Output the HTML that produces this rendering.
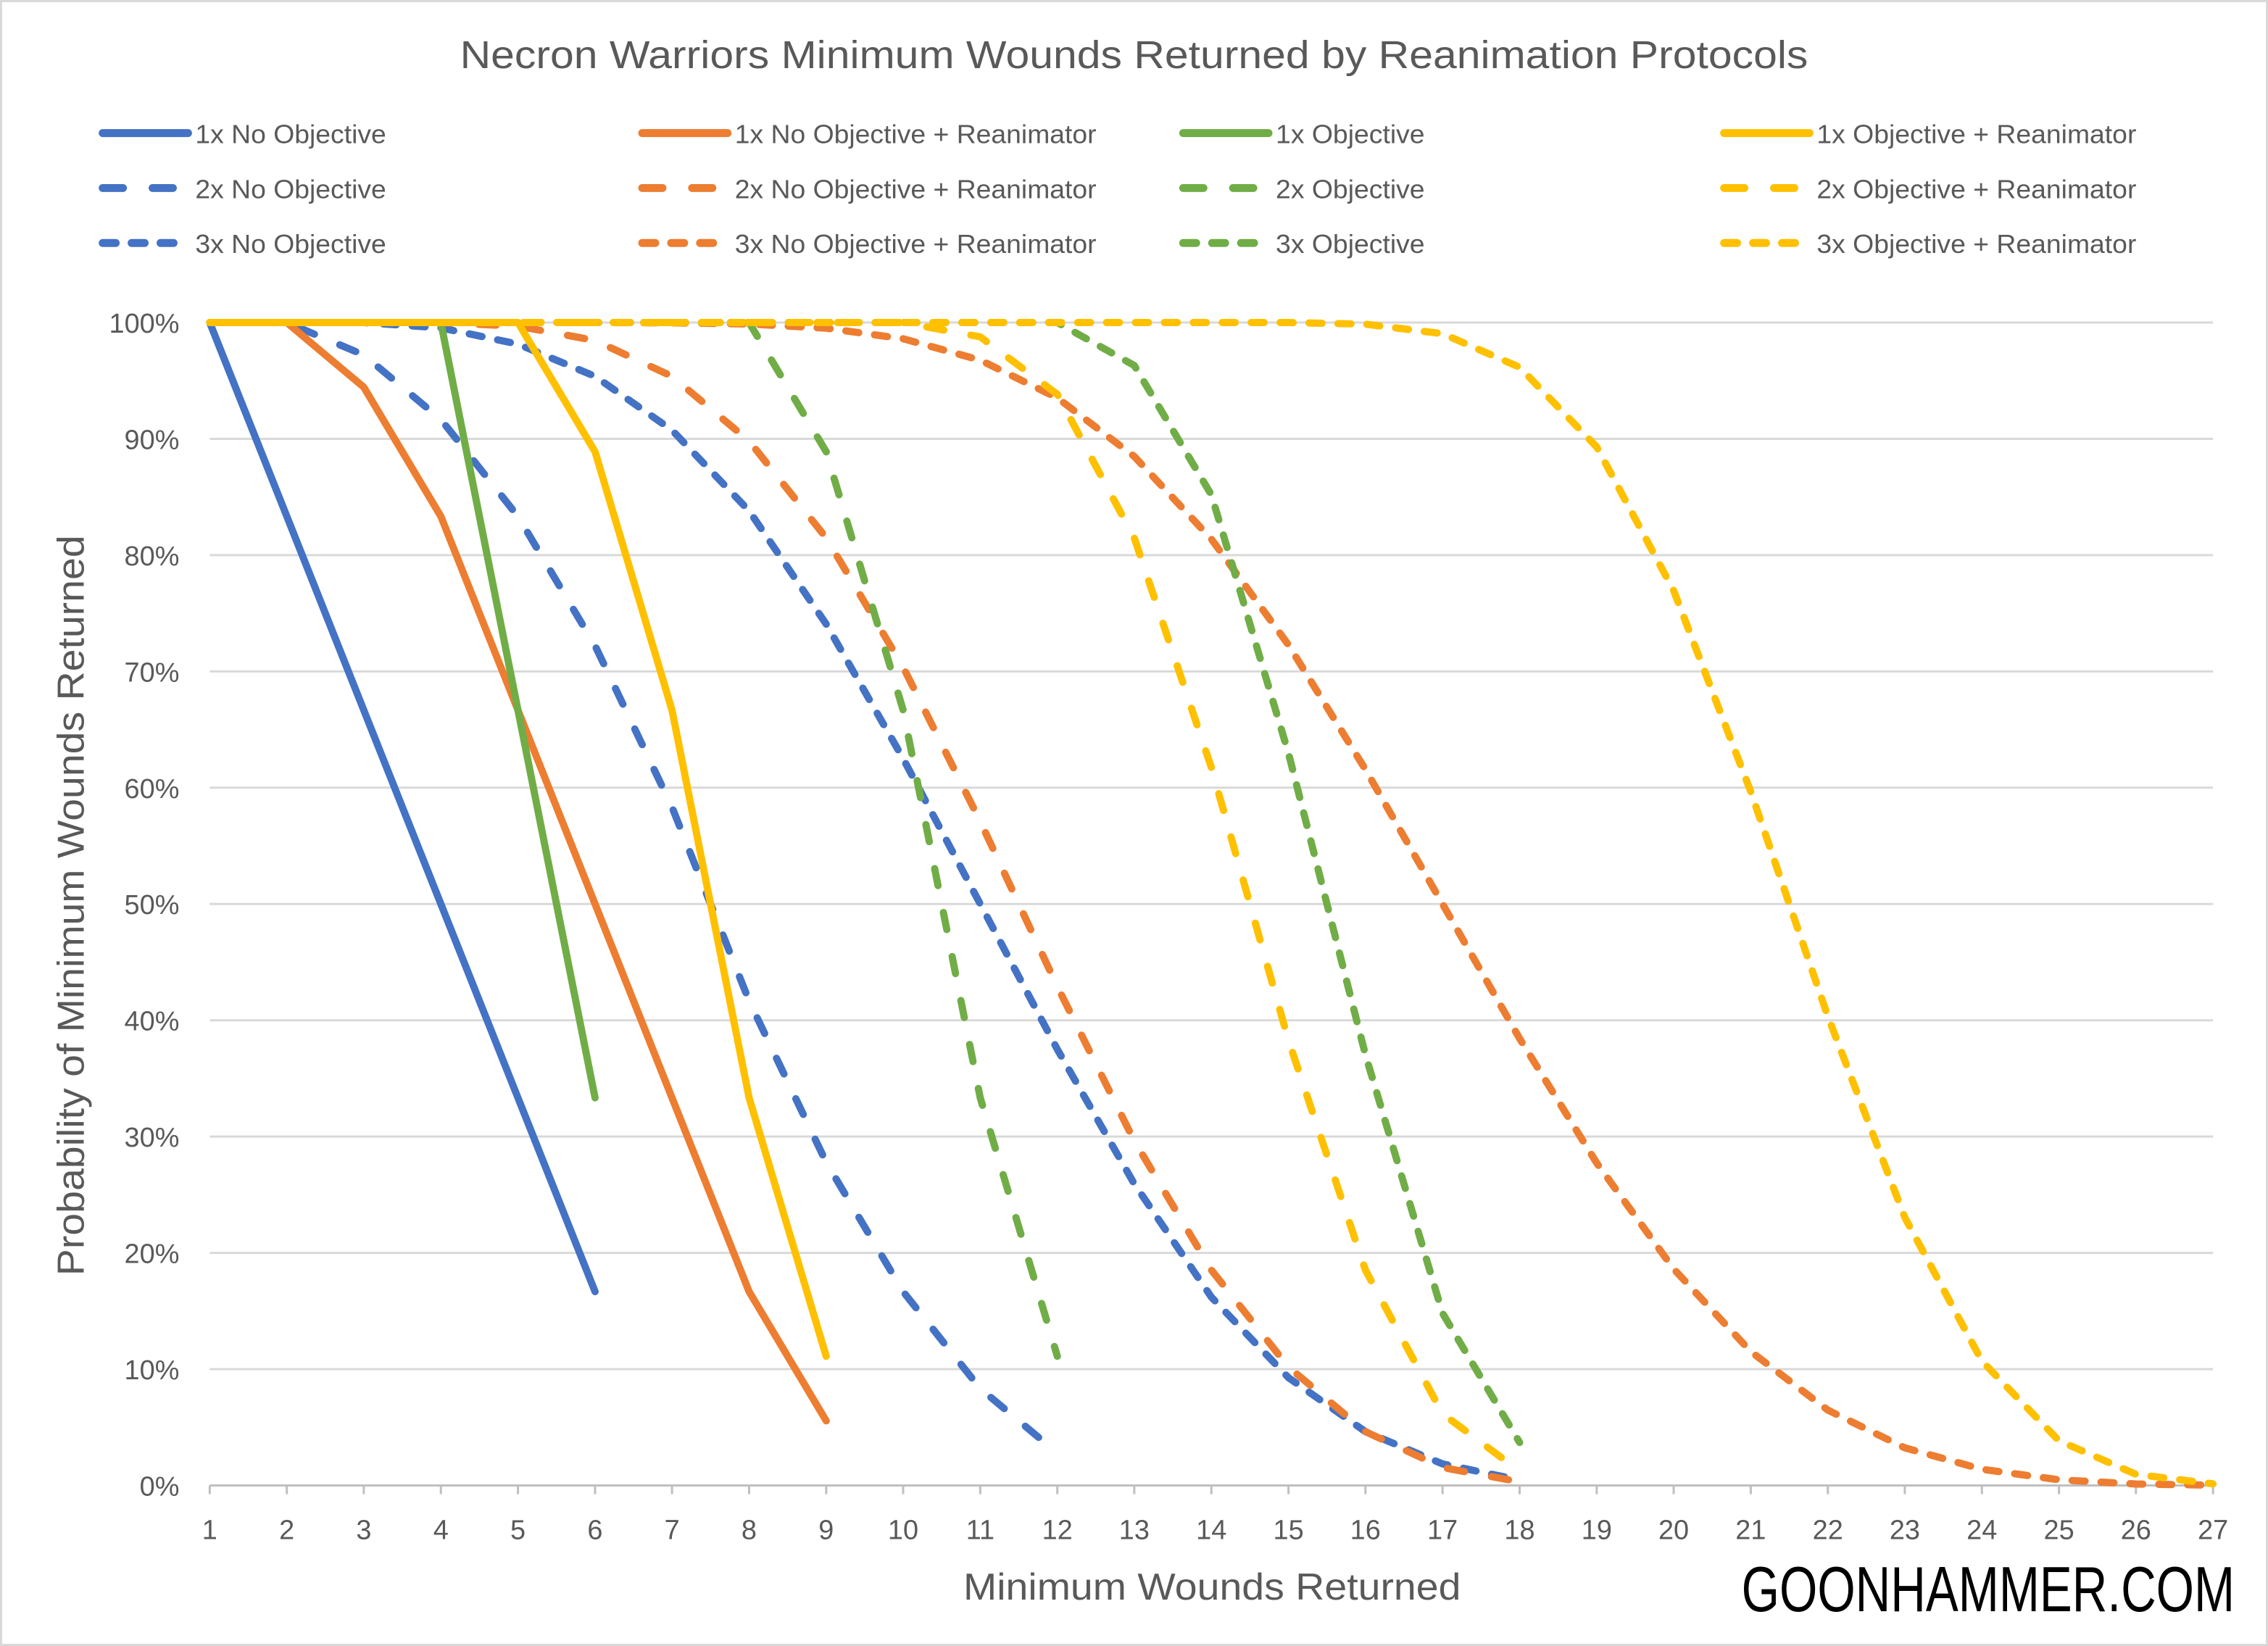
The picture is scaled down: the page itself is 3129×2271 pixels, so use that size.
<!DOCTYPE html>
<html><head><meta charset="utf-8"><style>
html,body{margin:0;padding:0;background:#fff;}
svg{display:block;}
text{font-family:"Liberation Sans",sans-serif;fill:#595959;}
</style></head><body>
<svg width="3129" height="2271" viewBox="0 0 1568 1138" preserveAspectRatio="none" xmlns="http://www.w3.org/2000/svg">
<rect x="0" y="0" width="1568" height="1138" fill="#fff"/>
<rect x="0.75" y="0.75" width="1566.5" height="1136.5" fill="none" stroke="#D9D9D9" stroke-width="1.5"/>
<text x="784" y="47" font-size="27" text-anchor="middle" textLength="932" lengthAdjust="spacingAndGlyphs">Necron Warriors Minimum Wounds Returned by Reanimation Protocols</text>

<!-- legend -->
<g stroke-width="5.5" stroke-linecap="round" fill="none">
<line x1="71" y1="92" x2="130" y2="92" stroke="#4472C4"/>
<line x1="71" y1="130" x2="130" y2="130" stroke="#4472C4" stroke-dasharray="14 20.5"/>
<line x1="71" y1="168" x2="130" y2="168" stroke="#4472C4" stroke-dasharray="9 11"/>
<line x1="444" y1="92" x2="503" y2="92" stroke="#ED7D31"/>
<line x1="444" y1="130" x2="503" y2="130" stroke="#ED7D31" stroke-dasharray="14 20.5"/>
<line x1="444" y1="168" x2="503" y2="168" stroke="#ED7D31" stroke-dasharray="9 11"/>
<line x1="818" y1="92" x2="877" y2="92" stroke="#70AD47"/>
<line x1="818" y1="130" x2="877" y2="130" stroke="#70AD47" stroke-dasharray="14 20.5"/>
<line x1="818" y1="168" x2="877" y2="168" stroke="#70AD47" stroke-dasharray="9 11"/>
<line x1="1192" y1="92" x2="1251" y2="92" stroke="#FFC000"/>
<line x1="1192" y1="130" x2="1251" y2="130" stroke="#FFC000" stroke-dasharray="14 20.5"/>
<line x1="1192" y1="168" x2="1251" y2="168" stroke="#FFC000" stroke-dasharray="9 11"/>
</g>
<g font-size="18">
<text x="135" y="99" textLength="132" lengthAdjust="spacingAndGlyphs">1x No Objective</text>
<text x="135" y="137" textLength="132" lengthAdjust="spacingAndGlyphs">2x No Objective</text>
<text x="135" y="175" textLength="132" lengthAdjust="spacingAndGlyphs">3x No Objective</text>
<text x="508" y="99" textLength="250" lengthAdjust="spacingAndGlyphs">1x No Objective + Reanimator</text>
<text x="508" y="137" textLength="250" lengthAdjust="spacingAndGlyphs">2x No Objective + Reanimator</text>
<text x="508" y="175" textLength="250" lengthAdjust="spacingAndGlyphs">3x No Objective + Reanimator</text>
<text x="882" y="99" textLength="103" lengthAdjust="spacingAndGlyphs">1x Objective</text>
<text x="882" y="137" textLength="103" lengthAdjust="spacingAndGlyphs">2x Objective</text>
<text x="882" y="175" textLength="103" lengthAdjust="spacingAndGlyphs">3x Objective</text>
<text x="1256" y="99" textLength="221" lengthAdjust="spacingAndGlyphs">1x Objective + Reanimator</text>
<text x="1256" y="137" textLength="221" lengthAdjust="spacingAndGlyphs">2x Objective + Reanimator</text>
<text x="1256" y="175" textLength="221" lengthAdjust="spacingAndGlyphs">3x Objective + Reanimator</text>
</g>

<!-- gridlines -->
<g stroke="#D9D9D9" stroke-width="1.5">
<line x1="145" y1="223" x2="1530" y2="223"/>
<line x1="145" y1="303.4" x2="1530" y2="303.4"/>
<line x1="145" y1="383.8" x2="1530" y2="383.8"/>
<line x1="145" y1="464.2" x2="1530" y2="464.2"/>
<line x1="145" y1="544.6" x2="1530" y2="544.6"/>
<line x1="145" y1="625" x2="1530" y2="625"/>
<line x1="145" y1="705.4" x2="1530" y2="705.4"/>
<line x1="145" y1="785.8" x2="1530" y2="785.8"/>
<line x1="145" y1="866.2" x2="1530" y2="866.2"/>
<line x1="145" y1="946.6" x2="1530" y2="946.6"/>
</g>
<g stroke="#BFBFBF" stroke-width="1.5">
<line x1="145" y1="1027" x2="1530" y2="1027"/>
<path d="M145,1027v6M198.3,1027v6M251.5,1027v6M304.8,1027v6M358.1,1027v6M411.4,1027v6M464.6,1027v6M517.9,1027v6M571.2,1027v6M624.4,1027v6M677.7,1027v6M731,1027v6M784.2,1027v6M837.5,1027v6M890.8,1027v6M944,1027v6M997.3,1027v6M1050.6,1027v6M1103.9,1027v6M1157.1,1027v6M1210.4,1027v6M1263.7,1027v6M1316.9,1027v6M1370.2,1027v6M1423.5,1027v6M1476.7,1027v6M1530,1027v6"/>
</g>

<!-- y labels -->
<g font-size="19" text-anchor="end">
<text x="124" y="230">100%</text>
<text x="124" y="310.4">90%</text>
<text x="124" y="390.8">80%</text>
<text x="124" y="471.2">70%</text>
<text x="124" y="551.6">60%</text>
<text x="124" y="632">50%</text>
<text x="124" y="712.4">40%</text>
<text x="124" y="792.8">30%</text>
<text x="124" y="873.2">20%</text>
<text x="124" y="953.6">10%</text>
<text x="124" y="1034">0%</text>
</g>
<!-- x labels -->
<g font-size="19" text-anchor="middle">
<text x="145" y="1064">1</text><text x="198.3" y="1064">2</text><text x="251.5" y="1064">3</text><text x="304.8" y="1064">4</text><text x="358.1" y="1064">5</text><text x="411.4" y="1064">6</text><text x="464.6" y="1064">7</text><text x="517.9" y="1064">8</text><text x="571.2" y="1064">9</text><text x="624.4" y="1064">10</text><text x="677.7" y="1064">11</text><text x="731" y="1064">12</text><text x="784.2" y="1064">13</text><text x="837.5" y="1064">14</text><text x="890.8" y="1064">15</text><text x="944" y="1064">16</text><text x="997.3" y="1064">17</text><text x="1050.6" y="1064">18</text><text x="1103.9" y="1064">19</text><text x="1157.1" y="1064">20</text><text x="1210.4" y="1064">21</text><text x="1263.7" y="1064">22</text><text x="1316.9" y="1064">23</text><text x="1370.2" y="1064">24</text><text x="1423.5" y="1064">25</text><text x="1476.7" y="1064">26</text><text x="1530" y="1064">27</text>
</g>
<text x="838" y="1106" font-size="26" text-anchor="middle" textLength="344" lengthAdjust="spacingAndGlyphs">Minimum Wounds Returned</text>
<text transform="translate(58,626) rotate(-90)" font-size="26" text-anchor="middle" textLength="512" lengthAdjust="spacingAndGlyphs">Probability of Minimum Wounds Returned</text>
<text x="1204" y="1114" font-size="44" textLength="341" lengthAdjust="spacingAndGlyphs" style="font-family:'Liberation Sans Narrow','Liberation Sans',sans-serif;fill:#000;">GOONHAMMER.COM</text>

<!-- series -->
<g fill="none" stroke-width="5" stroke-linecap="round" stroke-linejoin="round">
<polyline stroke="#4472C4" points="145,223 198.3,357 251.5,491 304.8,625 358.1,759 411.4,893"/>
<polyline stroke="#4472C4" stroke-dasharray="12 19" points="145,223 198.3,223 251.5,245.4 304.8,290 358.1,357 411.4,446.4 464.6,558 517.9,692 571.2,803.6 624.4,893 677.7,960 731,1004.6"/>
<polyline stroke="#4472C4" stroke-dasharray="9 11" points="145,223 251.5,223 304.8,226.7 358.1,237.9 411.4,260.2 464.6,297.4 517.9,353.2 571.2,431.5 624.4,524.5 677.7,625 731,725.5 784.2,818.5 837.5,896.8 890.8,952.5 944,989.8 997.3,1012.1 1050.6,1023.3"/>
<polyline stroke="#ED7D31" points="145,223 198.3,223 251.5,267.7 304.8,357 358.1,491 411.4,625 464.6,759 517.9,893 571.2,982.3"/>
<polyline stroke="#ED7D31" stroke-dasharray="12 19" points="145,223 304.8,223 358.1,225.5 411.4,235.4 464.6,260.2 517.9,304.9 571.2,371.9 624.4,461.2 677.7,567.9 731,682.1 784.2,788.8 837.5,878.1 890.8,945.1 944,989.8 997.3,1014.6 1050.6,1024.5"/>
<polyline stroke="#ED7D31" stroke-dasharray="9 11" points="145,223 411.4,223 464.6,223.2 517.9,224 571.2,226.9 624.4,234.2 677.7,249 731,275.1 784.2,315.6 837.5,372.7 890.8,445.9 944,532 997.3,625 1050.6,718 1103.9,804.1 1157.1,877.3 1210.4,934.4 1263.7,974.9 1316.9,1001 1370.2,1015.8 1423.5,1023.1 1476.7,1026 1530,1026.8"/>
<polyline stroke="#70AD47" points="145,223 304.8,223 358.1,491 411.4,759"/>
<polyline stroke="#70AD47" stroke-dasharray="12 19" points="145,223 517.9,223 571.2,312.3 624.4,491 677.7,759 731,937.7"/>
<polyline stroke="#70AD47" stroke-dasharray="9 11" points="145,223 731,223 784.2,252.7 837.5,342.1 890.8,520.8 944,729.2 997.3,907.9 1050.6,997.3"/>
<polyline stroke="#FFC000" points="145,223 358.1,223 411.4,312.3 464.6,491 517.9,759 571.2,937.7"/>
<polyline stroke="#FFC000" stroke-dasharray="12 19" points="145,223 624.4,223 677.7,232.9 731,272.6 784.2,371.9 837.5,530.7 890.8,719.3 944,878.1 997.3,977.4 1050.6,1017.1"/>
<polyline stroke="#FFC000" stroke-dasharray="9 11" points="145,223 890.8,223 944,224.1 997.3,230.7 1050.6,253.9 1103.9,309 1157.1,408.3 1210.4,547.3 1263.7,702.7 1316.9,841.7 1370.2,941 1423.5,996.1 1476.7,1019.3 1530,1025.9"/>
</g>
</svg>
</body></html>
